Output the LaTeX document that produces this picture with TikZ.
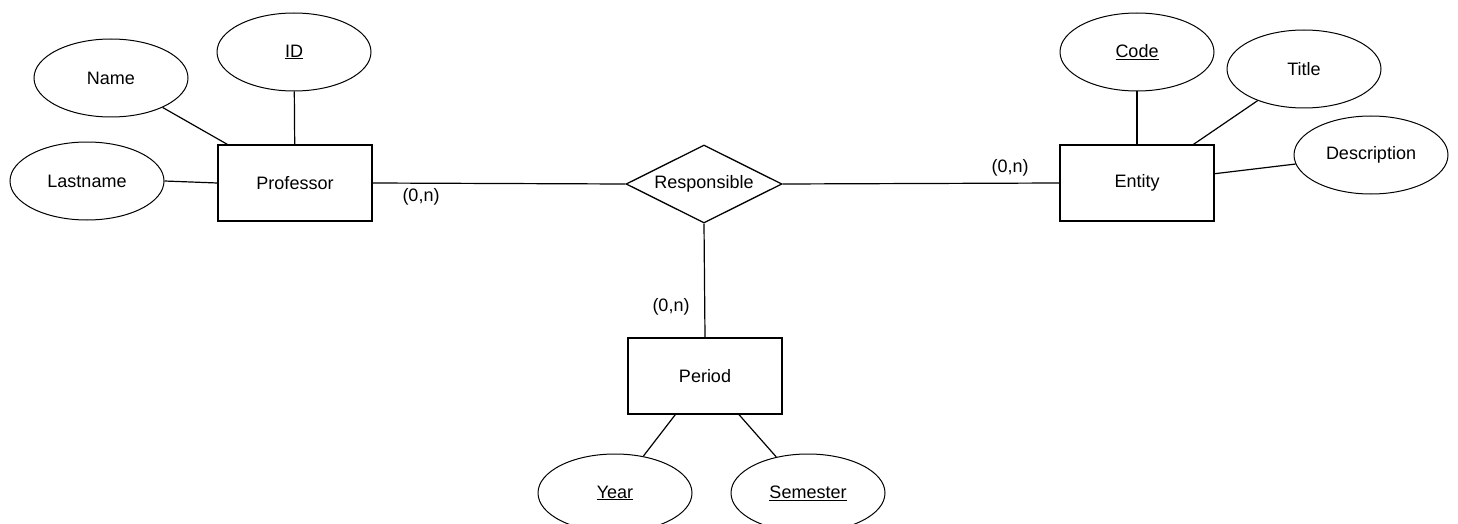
\documentclass[tikz,border=0pt]{standalone}
\usepackage{fontspec}
\setmainfont{Liberation Sans}
\usetikzlibrary{shapes.geometric}
\begin{document}
\begin{tikzpicture}[x=1pt,y=-1pt,
  every node/.style={font=\fontsize{18}{21}\selectfont},
  ent/.style={draw,line width=1.3pt,minimum width=154pt,minimum height=76pt,inner sep=0pt},
  attr/.style={draw,line width=1pt,ellipse,minimum width=154pt,minimum height=78pt,inner sep=0pt},
  rel/.style={draw,line width=1.3pt,diamond,minimum width=156pt,minimum height=78pt,inner sep=0pt},
  conn/.style={line width=1.2pt},
  card/.style={inner sep=0pt}]
\useasboundingbox (0,0) rectangle (1458,524);
% entities
\node[ent] (prof) at (295,183) {Professor};
\node[ent] (entity) at (1137,183) {Entity};
\node[ent] (period) at (705,376) {Period};
% relationship
\node[rel,label={center:Responsible}] (resp) at (704,184) {};
% attributes
\node[attr] (id) at (294,52) {\underline{ID}};
\node[attr] (name) at (111,78) {Name};
\node[attr] (lastname) at (87,181) {Lastname};
\node[attr] (code) at (1137,52) {\underline{Code}};
\node[attr] (title) at (1304,69) {Title};
\node[attr] (desc) at (1371,155) {Description};
\node[attr] (year) at (615,493) {\underline{Year}};
\node[attr] (sem) at (808,493) {\underline{Semester}};
% connectors
\draw[conn] (id) -- (prof);
\draw[conn] (name) -- (prof);
\draw[conn] (lastname.east) -- (prof.west);
\draw[conn] (code) -- (entity);
\draw[conn] (title) -- (entity);
\draw[conn] (desc) -- (entity);
\draw[conn] (period) -- (year);
\draw[conn] (period) -- (sem);
\draw[conn] (prof.east) -- (resp.west);
\draw[conn] (resp.east) -- (entity.west);
\draw[conn] (resp.south) -- (period.north);
% cardinalities
\node[card] (c1) at (421,197) {(0,n)};
\node[card] (c2) at (1010,168) {(0,n)};
\node[card] (c3) at (671,307) {(0,n)};
\end{tikzpicture}
\end{document}
